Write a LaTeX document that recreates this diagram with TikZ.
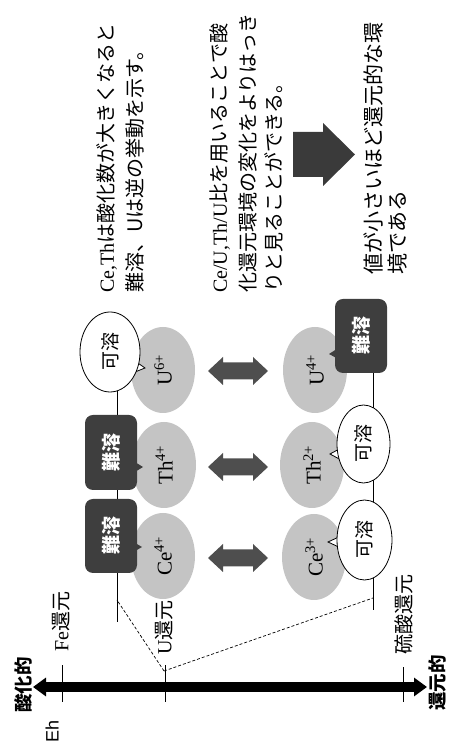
\documentclass[tikz,border=0pt]{standalone}
\usepackage{fontspec}
\setmainfont{Liberation Serif}
\newfontfamily\jp{Noto Sans CJK JP}
\newfontfamily\lsans{Liberation Sans}
\usetikzlibrary{arrows.meta,shapes.geometric}
\pgfdeclarelayer{bg}
\pgfsetlayers{bg,main}
\definecolor{ionfill}{RGB}{196,196,196}
\definecolor{darkbox}{RGB}{62,62,62}
\definecolor{arrowgray}{RGB}{78,78,78}
\definecolor{bigarrow}{RGB}{58,58,58}
\tikzset{
  ion/.style={ellipse, fill=ionfill, minimum width=86, minimum height=64, inner sep=0, font={\fontsize{21}{24}\selectfont}},
  darkbub/.style={rectangle, rounded corners=8, fill=darkbox, minimum width=74, minimum height=52, inner sep=0, text=white, font={\jp\bfseries\fontsize{19}{22}\selectfont}},
  whitebub/.style={ellipse, fill=white, draw=black, line width=0.8, inner sep=0, font={\jp\fontsize{19}{22}\selectfont}},
  darktail/.style={fill=darkbox},
  whitetail/.style={fill=white, draw=black, line width=0.8, line join=miter},
  dblarrow/.style={fill=arrowgray},
  rowline/.style={line width=0.7, black},
  dashline/.style={line width=0.7, dash pattern=on 3pt off 2pt},
  tickline/.style={line width=0.9},
  axisline/.style={line width=10, {Triangle[width=18pt,length=13pt]}-{Triangle[width=18pt,length=13pt]}},
  lvl/.style={anchor=west, inner sep=0, font={\fontsize{20}{24}\selectfont}},
  body/.style={anchor=west, inner sep=0, font={\jp\fontsize{20}{24}\selectfont}},
  note/.style={anchor=west, inner sep=0, font={\jp\fontsize{21}{24}\selectfont}},
  pole/.style={inner sep=0, font={\jp\bfseries\fontsize{18.5}{22}\selectfont}},
  ehlabel/.style={inner sep=0, font={\lsans\fontsize{18}{20}\selectfont}},
}
\begin{document}
\begin{tikzpicture}[x=1pt,y=1pt]
\useasboundingbox (0,0) rectangle (450,749);
\begin{scope}[rotate=90, transform shape]
% axis
\coordinate (axtop) at (62,-33);
\coordinate (axbot) at (62,-427);
\draw[axisline] (axtop) -- (axbot);
\coordinate (feA) at (47,-62);  \coordinate (feB) at (84,-62);
\coordinate (uA) at (47,-165);  \coordinate (uB) at (84,-165);
\coordinate (sA) at (47,-403);  \coordinate (sB) at (82,-403);
\draw[tickline] (feA) -- (feB);
\draw[tickline] (uA) -- (uB);
\draw[tickline] (sA) -- (sB);
% axis labels
\node[ehlabel] (eh) at (18,-52) {Eh};
\node[pole] (ox) at (64,-23.5) {酸化的};
\node[pole] (rd) at (66,-437.5) {還元的};
\node[lvl] (lfe) at (97,-61) {Fe{\jp 還元}};
\node[lvl] (lu) at (94,-164) {U{\jp 還元}};
\node[lvl] (ls) at (94,-404) {\jp 硫酸還元};
% ions
\node[ion] (ce4) at (193,-163) {Ce\textsuperscript{4+}};
\node[ion] (th4) at (284,-164) {Th\textsuperscript{4+}};
\node[ion] (u6) at (379,-163) {U\textsuperscript{6+}};
\node[ion] (ce3) at (192,-314) {Ce\textsuperscript{3+}};
\node[ion] (th2) at (284,-312) {Th\textsuperscript{2+}};
\node[ion] (u4) at (379,-315) {U\textsuperscript{4+}};
% double arrows
\foreach \u in {191,282,378} {
  \fill[dblarrow] (\u,-208) -- (\u+14,-223) -- (\u+8.5,-223) -- (\u+8.5,-253) -- (\u+14,-253) -- (\u,-268) -- (\u-14,-253) -- (\u-8.5,-253) -- (\u-8.5,-223) -- (\u-14,-223) -- cycle;
}
% callout tails
\fill[darktail] (195,-130) -- (202,-142) -- (209,-130) -- cycle;
\fill[darktail] (274,-130) -- (282,-143) -- (290,-130) -- cycle;
\filldraw[whitetail] (375,-130) -- (381,-145) -- (390,-132) -- cycle;
\filldraw[whitetail] (200,-343) -- (207,-328) -- (214,-343) -- cycle;
\filldraw[whitetail] (288,-343) -- (295,-330) -- (302,-343) -- cycle;
\fill[darktail] (389,-340) -- (395,-329) -- (402,-340) -- cycle;
% bubbles
\node[darkbub] (ce4b) at (213,-111) {難溶};
\node[darkbub, minimum width=75] (th4b) at (296.5,-111) {難溶};
\node[whitebub, minimum width=80, minimum height=60] (u6b) at (397,-110) {可溶};
\node[whitebub, minimum width=80, minimum height=55] (ce3b) at (209,-364.5) {可溶};
\node[whitebub, minimum width=78, minimum height=53] (th2b) at (305,-363.5) {可溶};
\node[darkbub] (u4b) at (413,-361) {難溶};
% lines behind
\begin{pgfonlayer}{bg}
\coordinate (trL) at (127,-117);
\coordinate (trR) at (397,-117);
\coordinate (brL) at (139,-373);
\coordinate (brR) at (413,-373);
\draw[rowline] (trL) -- (trR);
\draw[rowline] (brL) -- (brR);
\coordinate (uknot) at (78,-164);
\coordinate (tdash) at (149,-117);
\coordinate (bdash) at (151,-373);
\draw[dashline] (uknot) -- (tdash);
\draw[dashline] (uknot) -- (bdash);
\end{pgfonlayer}
% texts
\node[body] (t1a) at (456,-107) {{\rmfamily Ce,Th}は酸化数が大きくなると};
\node[body] (t1b) at (456,-135) {難溶、Uは逆の挙動を示す。};
\node[body] (t2a) at (456,-220) {{\rmfamily Ce/U,Th/U}比を用いることで酸};
\node[body] (t2b) at (456,-248) {化還元環境の変化をよりはっき};
\node[body] (t2c) at (456,-274) {りと見ることができる。};
\node[note] (t3a) at (474,-373) {値が小さいほど還元的な環};
\node[note] (t3b) at (474,-397.5) {境である};
% big arrow
\fill[bigarrow] (572,-293) -- (617,-293) -- (617,-323) -- (626,-323) -- (594.5,-355) -- (563,-323) -- (572,-323) -- cycle;
\end{scope}
\end{tikzpicture}
\end{document}
